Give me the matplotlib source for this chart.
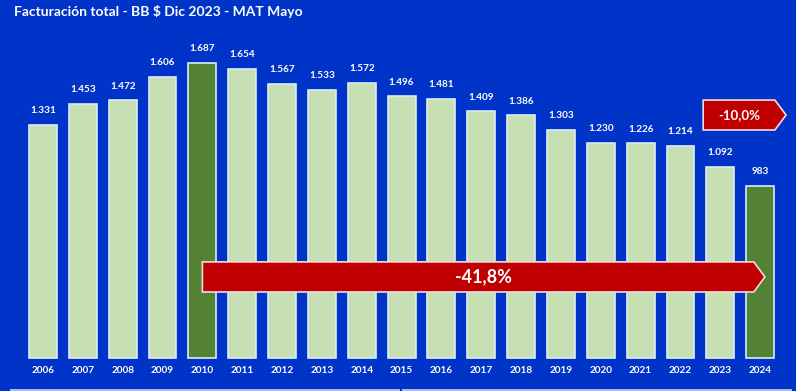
import matplotlib.pyplot as plt
from matplotlib.patches import Polygon

plt.rcParams['font.family'] = ['Lato', 'DejaVu Sans']

years = [str(y) for y in range(2006, 2025)]
values = [1331, 1453, 1472, 1606, 1687, 1654, 1567, 1533, 1572, 1496,
          1481, 1409, 1386, 1303, 1230, 1226, 1214, 1092, 983]
labels = ["1.331", "1.453", "1.472", "1.606", "1.687", "1.654", "1.567", "1.533",
          "1.572", "1.496", "1.481", "1.409", "1.386", "1.303", "1.230", "1.226",
          "1.214", "1.092", "983"]
highlight = ["2010", "2024"]

bg = "#0033C8"
fig = plt.figure(figsize=(7.96, 3.91), dpi=100, facecolor=bg)
ax = fig.add_axes([0, 0, 1, 1])
ax.set_facecolor(bg)

x = list(range(len(years)))
colors = ["#548235" if y in highlight else "#C6E0B4" for y in years]
ax.bar(x, values, width=0.7, color=colors, edgecolor="#DDEBF7", linewidth=1.2, zorder=2)

for i, v in enumerate(values):
    ax.text(i, v + 55, labels[i], ha="center", va="bottom", color="white",
            fontsize=7.2, fontweight="bold")
    ax.text(i, -72, years[i], ha="center", va="center", color="white",
            fontsize=7.2, fontweight="bold")

# big arrow 2010 -> 2024
i0 = years.index("2010")
i1 = years.index("2024")
y0, y1 = 377, 549
tip = i1 + 0.12
head = 0.28
big = Polygon([(i0, y0), (tip - head, y0), (tip, (y0 + y1) / 2), (tip - head, y1), (i0, y1)],
              closed=True, facecolor="#C00000", edgecolor="#F2DCDB", linewidth=1.2, zorder=3)
ax.add_patch(big)
ax.text((i0 + tip) / 2, (y0 + y1) / 2, "-41,8%", ha="center", va="center",
        color="white", fontsize=13, fontweight="bold", zorder=4)

# small arrow
sx0, sx1 = 16.57, 18.65
sy0, sy1 = 1303, 1474
shead = 0.28
small = Polygon([(sx0, sy0), (sx1 - shead, sy0), (sx1, (sy0 + sy1) / 2), (sx1 - shead, sy1), (sx0, sy1)],
                closed=True, facecolor="#C00000", edgecolor="#F2DCDB", linewidth=1.2, zorder=3)
ax.add_patch(small)
ax.text((sx0 + sx1 - shead) / 2, (sy0 + sy1) / 2, "-10,0%", ha="center", va="center",
        color="white", fontsize=9.5, fontweight="bold", zorder=4)

ax.set_xlim(-1.08, 18.9)
ax.set_ylim(-189, 2046)
ax.axis("off")

fig.text(14 / 796, 1 - 12 / 391, "Facturación total - BB $ Dic 2023 - MAT Mayo",
         ha="left", va="center", color="white", fontsize=10, fontweight="bold")

fig.add_artist(plt.Rectangle((10 / 796, 0), 390 / 796, 2 / 391, transform=fig.transFigure,
                             facecolor="#A9BCEB", edgecolor="none"))
fig.add_artist(plt.Rectangle((402 / 796, 0), 390 / 796, 2 / 391, transform=fig.transFigure,
                             facecolor="#A9BCEB", edgecolor="none"))

fig.savefig("out.png", dpi=100, facecolor=bg)
